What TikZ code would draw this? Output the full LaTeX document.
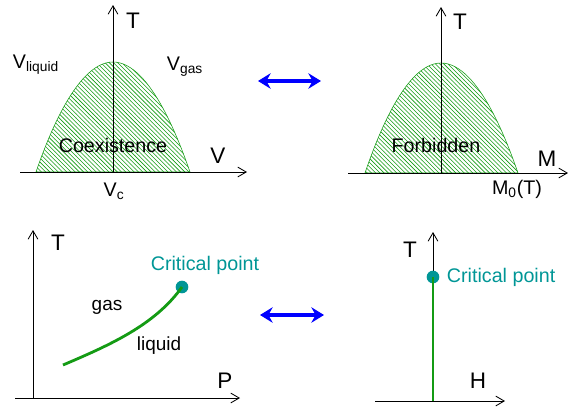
\documentclass[tikz,border=0pt]{standalone}
\usepackage{fontspec}
\setmainfont{Liberation Sans}
\usepackage{tikz}
\usetikzlibrary{arrows.meta, patterns}

\definecolor{domegreen}{RGB}{20,155,20}
\definecolor{critteal}{RGB}{0,150,150}

\begin{document}
\begin{tikzpicture}[x=0.025cm, y=-0.025cm,
    axis/.style={->, >={Straight Barb[length=6pt, width=7pt]}, line width=0.6pt},
    dome/.style={draw=domegreen, line width=0.4pt, pattern=north west lines, pattern color=domegreen},
    swap/.style={{Stealth[length=9pt, width=11pt, inset=3pt]}-{Stealth[length=9pt, width=11pt, inset=3pt]}, blue, line width=2.6pt},
    lab/.style={font=\fontsize{16}{16}\selectfont},
    txt/.style={font=\fontsize{13.5}{13.5}\selectfont},
    crit/.style={font=\fontsize{14}{14}\selectfont, text=critteal}]
    \useasboundingbox (0,0) rectangle (568,409);
    % V-T plane
    \fill[dome] (36,172) parabola bend (113,62) (190,172) -- cycle;
    \coordinate (v0) at (20,172); \coordinate (v1) at (247,172);
    \coordinate (t0) at (113,172); \coordinate (t1) at (113,5);
    \draw[axis] (v0) -- (v1);
    \draw[axis] (t0) -- (t1);
    \node[lab] (tv) at (133,21) {T};
    \node[lab] (vaxis) at (218,156) {V};
    \node[txt, font=\fontsize{14}{14}\selectfont] (vliq) at (36,65) {V\textsubscript{liquid}};
    \node[txt, font=\fontsize{14}{14}\selectfont] (vgas) at (185,67) {V\textsubscript{gas}};
    \node[txt, font=\fontsize{14}{14}\selectfont] (vc) at (114,191) {V\textsubscript{c}};
    \node[txt, font=\fontsize{14}{14}\selectfont] (coex) at (113,145) {Coexistence};
    % M-T plane
    \fill[dome] (365,173) parabola bend (441,63) (518,173) -- cycle;
    \coordinate (m0) at (348,173); \coordinate (m1) at (568,173);
    \coordinate (s0) at (441,173); \coordinate (s1) at (441,7);
    \draw[axis] (m0) -- (m1);
    \draw[axis] (s0) -- (s1);
    \node[lab] (tm) at (460,22) {T};
    \node[lab] (maxis) at (547,159) {M};
    \node[txt, font=\fontsize{14}{14}\selectfont] (forb) at (436,145) {Forbidden};
    \node[txt, font=\fontsize{14}{14}\selectfont] (mzero) at (517,189) {M\textsubscript{0}(T)};
    % P-T plane
    \coordinate (p0) at (15,398); \coordinate (p1) at (240,398);
    \coordinate (q0) at (33,398); \coordinate (q1) at (33,230);
    \draw[axis] (p0) -- (p1);
    \draw[axis] (q0) -- (q1);
    \node[lab] (tp) at (58,243) {T};
    \node[lab] (paxis) at (225,381) {P};
    \coordinate (lstart) at (63,365);
    \node[circle, fill=critteal, inner sep=0pt, minimum size=9pt] (cpp) at (182,287) {};
    \draw[domegreen, line width=2pt] (lstart) .. controls (110,345) and (155,325) .. (cpp.center);
    \node[crit] (cplab) at (205,265) {Critical point};
    \node[txt] (gas) at (107,307) {gas};
    \node[txt] (liq) at (159,346) {liquid};
    % H-T plane
    \coordinate (h0) at (375,401); \coordinate (h1) at (505,401);
    \coordinate (r0) at (433,401); \coordinate (r1) at (433,232);
    \draw[axis] (h0) -- (h1);
    \draw[axis] (r0) -- (r1);
    \node[lab] (th) at (410,250) {T};
    \node[lab] (haxis) at (478,381) {H};
    \node[circle, fill=critteal, inner sep=0pt, minimum size=9pt] (cph) at (433,277) {};
    \draw[domegreen, line width=2pt] (r0) -- (cph.center);
    \node[crit, anchor=west] (chlab) at (442,277) {Critical point};
    % correspondences
    \coordinate (a0) at (258,81); \coordinate (a1) at (321,81);
    \coordinate (b0) at (260,315); \coordinate (b1) at (324,315);
    \draw[swap] (a0) -- (a1);
    \draw[swap] (b0) -- (b1);
\end{tikzpicture}
\end{document}
